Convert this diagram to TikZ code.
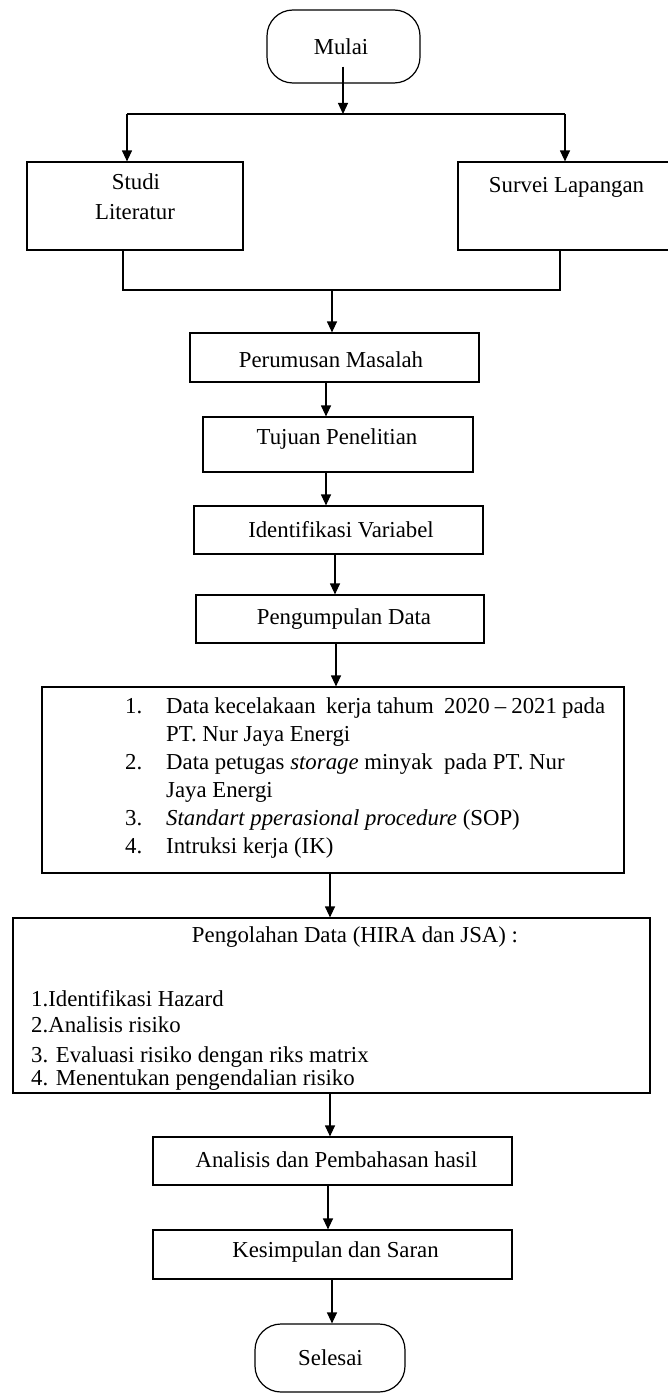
\documentclass[tikz,border=0pt]{standalone}
\usepackage{fontspec}
\setmainfont{Liberation Serif}
\usetikzlibrary{arrows.meta}
\begin{document}
\begin{tikzpicture}[x=1pt,y=-1pt,
  box/.style={draw, line width=1.2pt, inner sep=0pt},
  term/.style={box, rounded corners=26pt},
  lbl/.style={anchor=base, inner sep=0pt, font=\fontsize{22.8}{28}\selectfont},
  arr/.style={line width=1.2pt, -{Triangle[length=11pt,width=10pt]}},
  ln/.style={line width=1.2pt}]
\useasboundingbox (0,0) rectangle (667,1394);
\fill[white] (0,0) rectangle (667,1394);

% boxes
\node[term, minimum width=153pt, minimum height=73pt] (mulai) at (343.5,46.5) {};
\node[box, minimum width=216pt, minimum height=88pt] (studi) at (135,206) {};
\node[box, minimum width=217pt, minimum height=88pt] (survei) at (566.5,206) {};
\node[box, minimum width=289pt, minimum height=49pt] (perumusan) at (334.5,357.5) {};
\node[box, minimum width=270pt, minimum height=55pt] (tujuan) at (338,444.5) {};
\node[box, minimum width=289pt, minimum height=48pt] (ident) at (338.5,530) {};
\node[box, minimum width=288pt, minimum height=48pt] (peng) at (340,619) {};
\node[box, minimum width=582pt, minimum height=186pt] (data) at (333,780) {};
\node[box, minimum width=637pt, minimum height=175pt] (hira) at (331.5,1005.5) {};
\node[box, minimum width=359pt, minimum height=48pt] (analisis) at (332.5,1161) {};
\node[box, minimum width=359pt, minimum height=49pt] (kesimpulan) at (332.5,1254.5) {};
\node[term, minimum width=150pt, minimum height=68pt] (selesai) at (330,1358) {};

% texts
\node[lbl] (tmulai) at (341,55) {Mulai};
\node[lbl] (tstudi1) at (136,189) {Studi};
\node[lbl] (tstudi2) at (135,219) {Literatur};
\node[lbl] (tsurvei) at (566.5,192) {Survei Lapangan};
\node[lbl] (tperumusan) at (331,367) {Perumusan Masalah};
\node[lbl] (ttujuan) at (337,444) {Tujuan Penelitian};
\node[lbl] (tident) at (341,537) {Identifikasi Variabel};
\node[lbl] (tpeng) at (344,624) {Pengumpulan Data};
\node[lbl, anchor=base west] (tdata) at (125,713) {\parbox[t]{481pt}{\fontsize{22.8}{28}\selectfont
\makebox[41pt][l]{1.}\makebox[439pt][s]{Data kecelakaan\ \ kerja tahum\ \ 2020 -- 2021 pada}\\
\hspace*{41pt}PT. Nur Jaya Energi\\
\makebox[41pt][l]{2.}Data petugas \textit{storage} minyak\ \ pada PT. Nur\\
\hspace*{41pt}Jaya Energi\\
\makebox[41pt][l]{3.}\textit{Standart pperasional procedure} (SOP)\\
\makebox[41pt][l]{4.}Intruksi kerja (IK)}};
\node[lbl] (thira) at (355,942) {Pengolahan Data (HIRA dan JSA) :};
\node[lbl, anchor=base west] (th1) at (31,1006) {1.Identifikasi Hazard};
\node[lbl, anchor=base west] (th2) at (31,1032) {2.Analisis risiko};
\node[lbl, anchor=base west] (th3) at (31,1062) {3. Evaluasi risiko dengan riks matrix};
\node[lbl, anchor=base west] (th4) at (31,1085) {4. Menentukan pengendalian risiko};
\node[lbl] (tanalisis) at (336.5,1167) {Analisis dan Pembahasan hasil};
\node[lbl] (tkesimpulan) at (335.5,1257) {Kesimpulan dan Saran};
\node[lbl] (tselesai) at (330.5,1365) {Selesai};

% helper coordinates
\coordinate (split) at (343,114);
\coordinate (splitL) at (127,114);
\coordinate (splitR) at (565,114);
\coordinate (joinL) at (123,290);
\coordinate (joinR) at (560,290);
\coordinate (join) at (332,290);
\coordinate (a1) at (326,0);
\coordinate (a2) at (335,0);
\coordinate (a3) at (336,0);
\coordinate (a4) at (330,0);
\coordinate (a5) at (328,0);
\coordinate (a6) at (332,0);

% connectors
\draw[arr] ([yshift=17pt]mulai.south -| split) -- (split);
\draw[ln] (splitL) -- (splitR);
\draw[arr] (splitL) -- (studi.north -| splitL);
\draw[arr] (splitR) -- (survei.north -| splitR);
\draw[ln] (studi.south -| joinL) -- (joinL) -- (joinR) -- (survei.south -| joinR);
\draw[arr] (join) -- (perumusan.north -| join);
\draw[arr] (perumusan.south -| a1) -- (tujuan.north -| a1);
\draw[arr] (tujuan.south -| a1) -- (ident.north -| a1);
\draw[arr] (ident.south -| a2) -- (peng.north -| a2);
\draw[arr] (peng.south -| a3) -- (data.north -| a3);
\draw[arr] (data.south -| a4) -- (hira.north -| a4);
\draw[arr] (hira.south -| a4) -- (analisis.north -| a4);
\draw[arr] (analisis.south -| a5) -- (kesimpulan.north -| a5);
\draw[arr] (kesimpulan.south -| a6) -- (selesai.north -| a6);
\end{tikzpicture}
\end{document}
